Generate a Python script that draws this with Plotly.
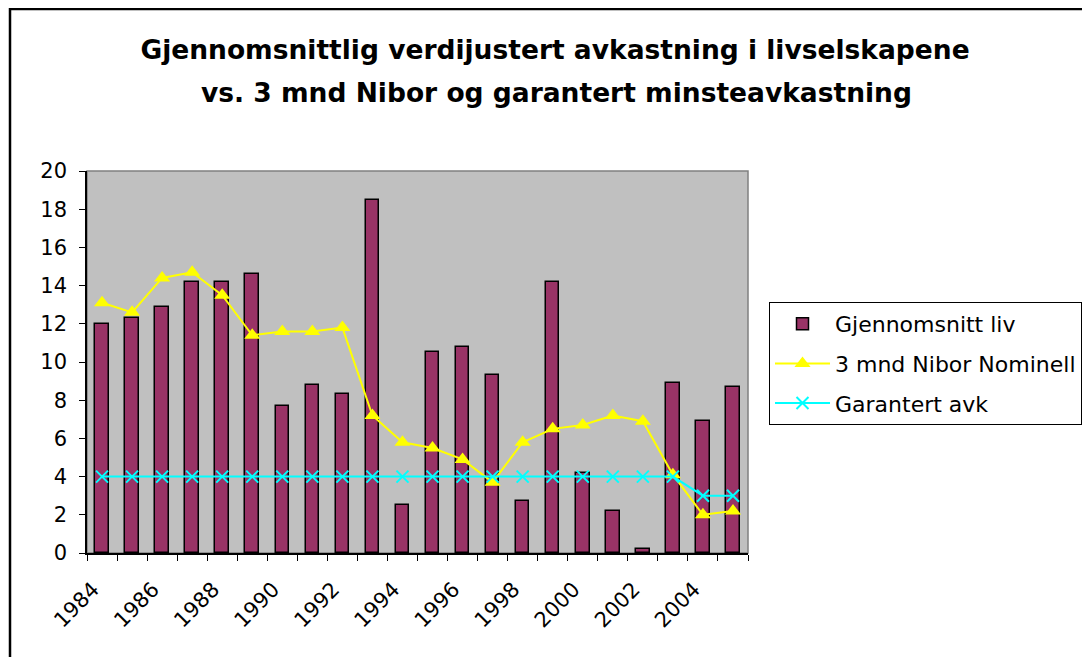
import plotly.graph_objects as go

years = list(range(1984, 2006))
gjennomsnitt_liv = [12.0, 12.3, 12.9, 14.2, 14.2, 14.6, 7.7, 8.8, 8.3, 18.5, 2.5, 10.5,
                    10.8, 9.3, 2.7, 14.2, 4.2, 2.2, 0.2, 8.9, 6.9, 8.7]
nibor_nominell = [13.1, 12.6, 14.4, 14.7, 13.5, 11.4, 11.6, 11.6, 11.8, 7.2, 5.8, 5.5,
                  4.9, 3.7, 5.8, 6.5, 6.7, 7.2, 6.9, 4.1, 2.0, 2.2]
garantert_avk = [4.0] * 20 + [3.0, 3.0]
tick_years = list(range(1984, 2005, 2))
tick_labels = [str(y) for y in tick_years]

title_line1 = "Gjennomsnittlig verdijustert avkastning i livselskapene"
title_line2 = "vs. 3 mnd Nibor og garantert minsteavkastning"

FONT = "DejaVu Sans, Arial, sans-serif"
OFF = 8  # page body margin

fig = go.Figure()
fig.add_trace(go.Bar(
    x=years, y=gjennomsnitt_liv, name="Gjennomsnitt liv", legendgroup="a",
    width=0.45,
    marker=dict(color="#993366", line=dict(color="black", width=1.5)),
))
fig.add_trace(go.Scatter(
    x=years, y=nibor_nominell, name="3 mnd Nibor Nominell", legendgroup="b",
    mode="lines+markers",
    line=dict(color="#FFFF00", width=2),
    marker=dict(symbol="triangle-up", size=14, color="#FFFF00"),
))
fig.add_trace(go.Scatter(
    x=years, y=garantert_avk, name="Garantert avk", legendgroup="c",
    mode="lines+markers",
    line=dict(color="#00FFFF", width=2),
    marker=dict(symbol="x-thin", size=12, color="#00FFFF",
                line=dict(color="#00FFFF", width=2)),
))

W, H = 1090 - OFF, 657 - OFF
L, R, T, B = 87 - OFF, 748 - OFF, 171 - OFF, 553 - OFF
pw, ph = R - L, B - T

def px(x):
    return (x - OFF - L) / pw

def py(y):
    return (B - (y - OFF)) / ph

fig.update_layout(
    width=W, height=H,
    margin=dict(l=L, r=W - R, t=T, b=H - B, pad=0, autoexpand=False),
    paper_bgcolor="white",
    plot_bgcolor="#C0C0C0",
    font=dict(family=FONT, size=20, color="black"),
    title=dict(text="<b>" + title_line1 + "</b>", x=(555 - OFF) / W, xanchor="center",
               y=1 - (50 - OFF) / H, yanchor="middle", font=dict(size=26.5, family=FONT)),
    showlegend=True,
    legend=dict(x=px(769), y=py(302), xanchor="left", yanchor="top",
                bordercolor="black", borderwidth=1, bgcolor="white",
                font=dict(size=22, family=FONT), itemwidth=55,
                tracegroupgap=8),
    bargap=0,
    xaxis=dict(
        range=[1983.5, 2005.5], tickmode="array", tickvals=[y - 0.3 for y in tick_years],
        ticktext=tick_labels, tickangle=-45, ticks="", showgrid=False,
        showline=True, linecolor="black", linewidth=1.5, zeroline=False,
        tickfont=dict(size=21, family=FONT), ticklabelstandoff=14,
        minor=dict(tickmode="array", tickvals=[y - 0.5 for y in years] + [2005.5],
                   ticks="outside", ticklen=6, tickcolor="black", tickwidth=1,
                   showgrid=False),
    ),
    yaxis=dict(
        range=[0, 20], dtick=2, ticks="outside", ticklen=6, tickcolor="black",
        showgrid=False, showline=True, linecolor="black", linewidth=1.5,
        zeroline=False, tickfont=dict(size=21, family=FONT), ticklabelstandoff=8,
    ),
    annotations=[dict(text="<b>" + title_line2 + "</b>", xref="paper", yref="paper",
                      x=px(556), y=py(92), xanchor="center", yanchor="middle",
                      showarrow=False, font=dict(size=26.5, family=FONT))],
    shapes=[
        dict(type="rect", xref="paper", yref="paper", x0=0, x1=1, y0=0, y1=1,
             line=dict(color="#808080", width=1.5), layer="below"),
        dict(type="path", xref="paper", yref="paper",
             path=f"M {px(10)} {py(670)} L {px(10)} {py(9)} L {px(1100)} {py(9)}",
             line=dict(color="black", width=2.5)),
    ],
)

fig.write_html("out.html")
